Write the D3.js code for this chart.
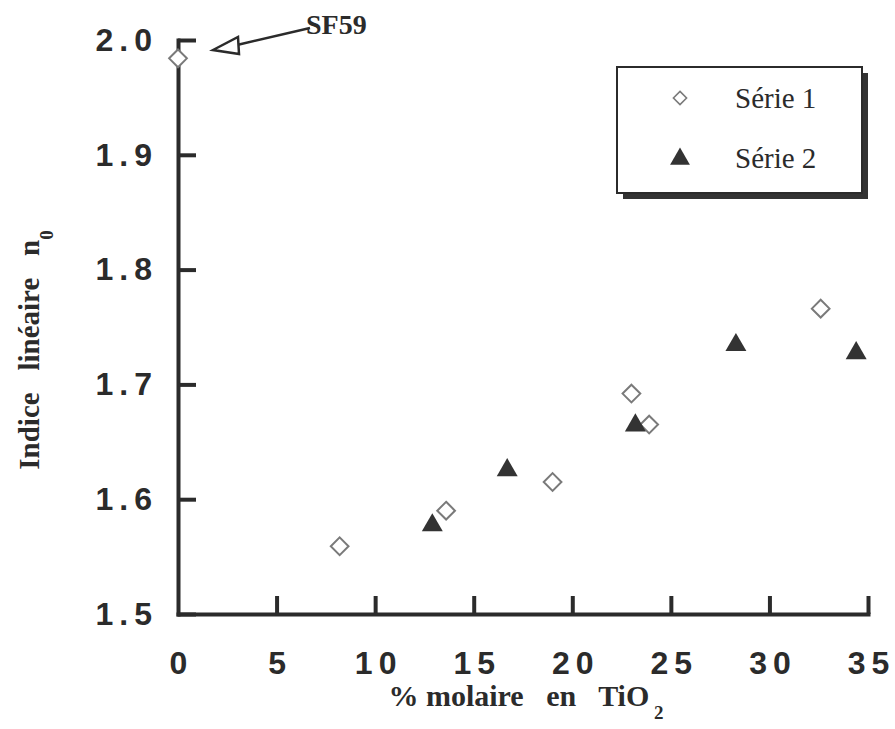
<!DOCTYPE html>
<html><head><meta charset="utf-8">
<script src="https://cdn.jsdelivr.net/npm/d3@7"></script>
<style>body{margin:0;background:#fff;} svg{display:block;} .pre{white-space:pre;}</style>
</head><body>
<script>
const xTicks = [0,5,10,15,20,25,30,35];
const yTicks = [1.5,1.6,1.7,1.8,1.9,2.0];
const serie1X = [0, 8.2, 13.6, 19.0, 23.0, 23.9, 32.6];
const serie1Y = [1.984, 1.559, 1.590, 1.615, 1.692, 1.665, 1.766];
const serie2X = [12.9, 16.7, 23.2, 28.3, 34.4];
const serie2Y = [1.579, 1.627, 1.666, 1.736, 1.729];
const seriesNames = ["Série 1", "Série 2"];

const W = 895, H = 729;
const ink = "#2b2b2b";
const svg = d3.select("body").append("svg").attr("width", W).attr("height", H);

const x = d3.scaleLinear().domain([0,35]).range([178,868]);
const y = d3.scaleLinear().domain([1.5,2.0]).range([614,40]);

const xAxis = svg.append("g").attr("transform", `translate(0,${y(1.5)})`)
  .call(d3.axisBottom(x).tickValues(xTicks).tickSizeInner(-18).tickSizeOuter(0).tickPadding(37).tickFormat(d3.format("d")));
const yAxis = svg.append("g").attr("transform", `translate(${x(0)},0)`)
  .call(d3.axisLeft(y).tickValues(yTicks).tickSizeInner(-18).tickSizeOuter(0).tickPadding(20).tickFormat(d3.format(".1f")));

[xAxis, yAxis].forEach(g => {
  g.attr("font-family", null).attr("font-size", null);
  g.select(".domain").attr("stroke", ink).attr("stroke-width", 4).attr("stroke-linecap", "square");
  g.selectAll(".tick line").attr("stroke", ink).attr("stroke-width", 4);
  g.selectAll(".tick text").attr("fill", ink)
    .style("font-family", "'Liberation Sans', Arial, sans-serif")
    .style("font-weight", "bold").style("font-size", "32px").style("letter-spacing", "6px");
});
xAxis.selectAll(".tick text").attr("dx", "3px");
xAxis.selectAll(".tick").filter(d => d === 0).select("line").remove();

// Axis titles
const serif = "'Liberation Serif', 'Times New Roman', serif";
const xt = svg.append("text").attr("class","pre").attr("x", 526).attr("y", 706).attr("text-anchor", "middle")
  .style("font-family", serif).style("font-weight", "bold").style("font-size", "30px").attr("fill", ink);
xt.append("tspan").text("% molaire   en   TiO");
xt.append("tspan").attr("dy", 13).style("font-size", "19px").text(" 2");

const yt = svg.append("text").attr("class","pre").attr("transform", "translate(39,350) rotate(-90)").attr("text-anchor", "middle")
  .style("font-family", serif).style("font-weight", "bold").style("font-size", "29px").attr("fill", ink);
yt.append("tspan").text("Indice   linéaire   n");
yt.append("tspan").attr("dy", 14).style("font-size", "19px").text("0");

// Data
const diamond = d3.symbol().type(d3.symbolDiamond2).size(200);
const triangle = d3.symbol().type(d3.symbolTriangle).size(190);

svg.append("g").selectAll("path").data(serie1X.map((v,i)=>[v, serie1Y[i]])).join("path")
  .attr("transform", d => `translate(${x(d[0])},${y(d[1])})`)
  .attr("d", diamond).attr("fill", "#fff").attr("stroke", "#7a7a7a").attr("stroke-width", 2);

svg.append("g").selectAll("path").data(serie2X.map((v,i)=>[v, serie2Y[i]])).join("path")
  .attr("transform", d => `translate(${x(d[0])},${y(d[1])+2})`)
  .attr("d", triangle).attr("fill", "#333");

// Legend
const lg = svg.append("g");
lg.append("rect").attr("x", 623).attr("y", 73).attr("width", 245).attr("height", 126).attr("fill", "#333");
lg.append("rect").attr("x", 617).attr("y", 67).attr("width", 245).attr("height", 126).attr("fill", "#fff").attr("stroke", ink).attr("stroke-width", 2);
lg.append("path").attr("transform", "translate(680,98)").attr("d", d3.symbol().type(d3.symbolDiamond2).size(110)).attr("fill", "#fff").attr("stroke", "#7a7a7a").attr("stroke-width", 1.6);
lg.append("path").attr("transform", "translate(680,159)").attr("d", d3.symbol().type(d3.symbolTriangle).size(170)).attr("fill", "#333");
lg.selectAll("text.lab").data(seriesNames).join("text").attr("class","lab")
  .attr("x", 735).attr("y", (d,i)=> 108 + i*60)
  .style("font-family", serif).style("font-size", "29px").attr("fill", ink).text(d=>d);

// SF59 annotation
svg.append("text").attr("x", 306).attr("y", 34).style("font-family", serif).style("font-weight","bold")
  .style("font-size", "28px").attr("fill", ink).text("SF59");
svg.append("line").attr("x1", 310).attr("y1", 28).attr("x2", 237).attr("y2", 45).attr("stroke", ink).attr("stroke-width", 2.5);
svg.append("path").attr("d", "M213,50 L238,37 L239,54 Z").attr("fill", "#fff").attr("stroke", ink).attr("stroke-width", 2.5).attr("stroke-linejoin","miter");
</script>
</body></html>
